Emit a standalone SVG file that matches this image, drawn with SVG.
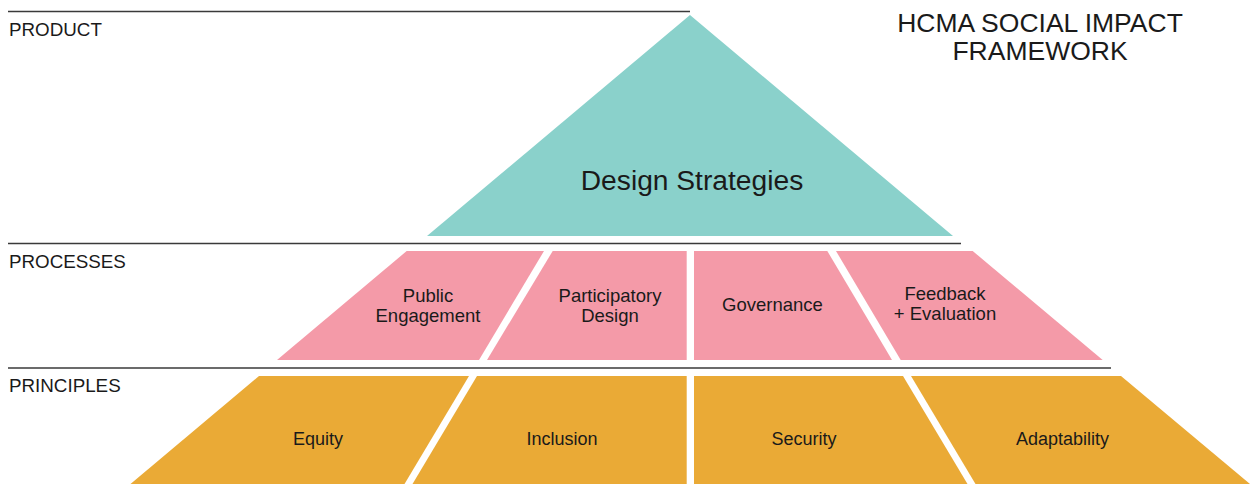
<svg xmlns="http://www.w3.org/2000/svg" width="1257" height="484" viewBox="0 0 1257 484">
<style>
text{font-family:"Liberation Sans",Arial,sans-serif;fill:#1a1a1a}
.lbl{font-size:18.8px}
.node{font-size:18.5px;text-anchor:middle}
.prin{font-size:18px;text-anchor:middle}
.rule{stroke:#3a3a3a;stroke-width:1.3;fill:none}
.teal{fill:#8AD1CB}
.pink{fill:#F49AA8}
.gold{fill:#EAAA36}
</style>
<rect width="1257" height="484" fill="#ffffff"/>
<g id="separators">
<line class="rule" x1="8" y1="11.5" x2="690" y2="11.5"/>
<line class="rule" x1="8" y1="243.5" x2="961" y2="243.5"/>
<line class="rule" x1="8" y1="368" x2="1111" y2="368"/>
</g>
<g id="tier-labels">
<text class="lbl" x="9" y="36">PRODUCT</text>
<text class="lbl" x="9" y="268">PROCESSES</text>
<text class="lbl" x="9" y="391.5">PRINCIPLES</text>
</g>
<g id="title">
<text x="1040" y="31.5" font-size="26.5" text-anchor="middle">HCMA SOCIAL IMPACT</text>
<text x="1040" y="60" font-size="26.5" text-anchor="middle">FRAMEWORK</text>
</g>
<g id="design-strategies">
<polygon class="teal" points="690,15 953,236 427,236"/>
<text x="692" y="189.5" font-size="28.2" text-anchor="middle">Design Strategies</text>
</g>
<g id="public-engagement">
<polygon class="pink" points="406.7,251 544,251 479,360 277,360"/>
<text class="node" x="428" y="301.5">Public</text>
<text class="node" x="428" y="321.5">Engagement</text>
</g>
<g id="participatory-design">
<polygon class="pink" points="552.7,251 686.7,251 686.7,360 487,360"/>
<text class="node" x="610" y="301.5">Participatory</text>
<text class="node" x="610" y="321.5">Design</text>
</g>
<g id="governance">
<polygon class="pink" points="694,251 827.3,251 892,360 694,360"/>
<text class="node" x="772.5" y="311">Governance</text>
</g>
<g id="feedback-evaluation">
<polygon class="pink" points="836,251 972.7,251 1102.7,360 900.7,360"/>
<text class="node" x="945" y="299.5">Feedback</text>
<text class="node" x="945" y="319.5">+ Evaluation</text>
</g>
<g id="equity">
<polygon class="gold" points="259,376 469,376 404.5,484 130.5,484"/>
<text class="prin" x="318" y="445">Equity</text>
</g>
<g id="inclusion">
<polygon class="gold" points="477,376 686.7,376 686.7,484 412.5,484"/>
<text class="prin" x="562" y="445">Inclusion</text>
</g>
<g id="security">
<polygon class="gold" points="694,376 903,376 967.5,484 694,484"/>
<text class="prin" x="804" y="445">Security</text>
</g>
<g id="adaptability">
<polygon class="gold" points="911,376 1121,376 1250,484 975.5,484"/>
<text class="prin" x="1062.5" y="445">Adaptability</text>
</g>
</svg>
